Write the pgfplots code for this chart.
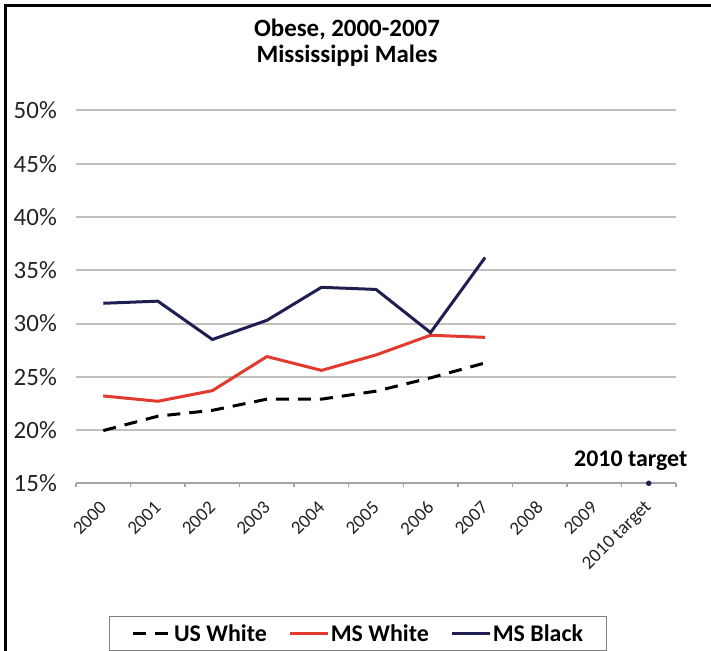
\documentclass[border=0pt]{standalone}
\usepackage{pgfplots}
\pgfplotsset{compat=1.18}
\usepackage{fontspec}
\setmainfont{Carlito}

\definecolor{msblack}{RGB}{31,30,82}
\definecolor{mswhite}{RGB}{226,58,46}
\definecolor{gridgray}{RGB}{192,192,188}
\definecolor{axisgray}{RGB}{165,165,160}
\definecolor{labelgray}{RGB}{35,35,35}
\definecolor{legendgray}{RGB}{130,130,130}

% obesity prevalence (%), Mississippi males and US white males
\pgfplotstableread{
x usw msw msb
0 19.95 23.2 31.9
1 21.3  22.7 32.1
2 21.85 23.7 28.5
3 22.9  26.9 30.3
4 22.9  25.6 33.4
5 23.65 27.05 33.2
6 24.9  28.9 29.15
7 26.3  28.7 36.2
}\obesity

\begin{document}
\begin{tikzpicture}[x=1bp,y=1bp]
\useasboundingbox (0,0) rectangle (711,651);
% frame along the left and top edges
\draw[line width=3bp] (5.5,-5) -- (5.5,645.5) -- (716,645.5);
\node[font=\bfseries\fontsize{25}{30}\selectfont, anchor=base] at (347,614) {Obese, 2000-2007};
\node[font=\bfseries\fontsize{25}{30}\selectfont, anchor=base] at (347,588) {Mississippi Males};

\begin{axis}[
  at={(76bp,167.7bp)}, anchor=south west,
  scale only axis, width=600bp, height=372.8bp,
  xmin=-0.5, xmax=10.5, ymin=15, ymax=50,
  clip=false,
  axis x line*=bottom, axis y line*=left,
  x axis line style={draw=axisgray, line width=2bp, -},
  y axis line style={draw=none},
  xtick={0,...,10},
  xticklabels={2000,2001,2002,2003,2004,2005,2006,2007,2008,2009,2010 target},
  minor xtick={-0.5,0.5,...,10.5},
  major tick length=0pt,
  minor tick length=4bp,
  xtick align=outside,
  minor tick style={draw=axisgray, line width=1.5bp},
  ytick={15,20,...,50},
  yticklabels={15\%,20\%,25\%,30\%,35\%,40\%,45\%,50\%},
  ytick style={draw=none},
  ymajorgrids,
  grid style={draw=gridgray, line width=2bp},
  yticklabel style={font=\fontsize{25}{30}\selectfont, text=labelgray, anchor=east, inner sep=0pt},
  yticklabel shift=19bp,
  xticklabel style={font=\fontsize{19}{22}\selectfont, text=labelgray, anchor=east, rotate=45, inner sep=0pt},
  xticklabel shift=21bp,
  legend columns=3,
  legend style={at={(axis description cs:0.055,-0.356)}, anchor=north west,
    draw=legendgray, line width=1.2bp,
    font=\bfseries\fontsize{24}{28}\selectfont,
    inner xsep=22bp, inner ysep=6bp,
    nodes={inner xsep=1.5bp, inner ysep=2bp},
    /tikz/every even column/.append style={column sep=20bp}},
  legend image code/.code={\draw[#1] (0bp,0bp) -- (38bp,0bp);},
]
\addplot[black, line width=3bp, dash pattern=on 13bp off 9bp] table[x=x, y=usw] {\obesity};
\addlegendentry{US White}
\addplot[mswhite, line width=3bp] table[x=x, y=msw] {\obesity};
\addlegendentry{MS White}
\addplot[msblack, line width=3bp] table[x=x, y=msb] {\obesity};
\addlegendentry{MS Black}
\addplot[only marks, mark=*, mark size=2.5bp, color=msblack, forget plot]
  coordinates {(10,15)}
  node[anchor=base, xshift=-18bp, yshift=17bp, font=\bfseries\fontsize{24}{28}\selectfont, text=black] {2010 target};
\end{axis}
\end{tikzpicture}
\end{document}
